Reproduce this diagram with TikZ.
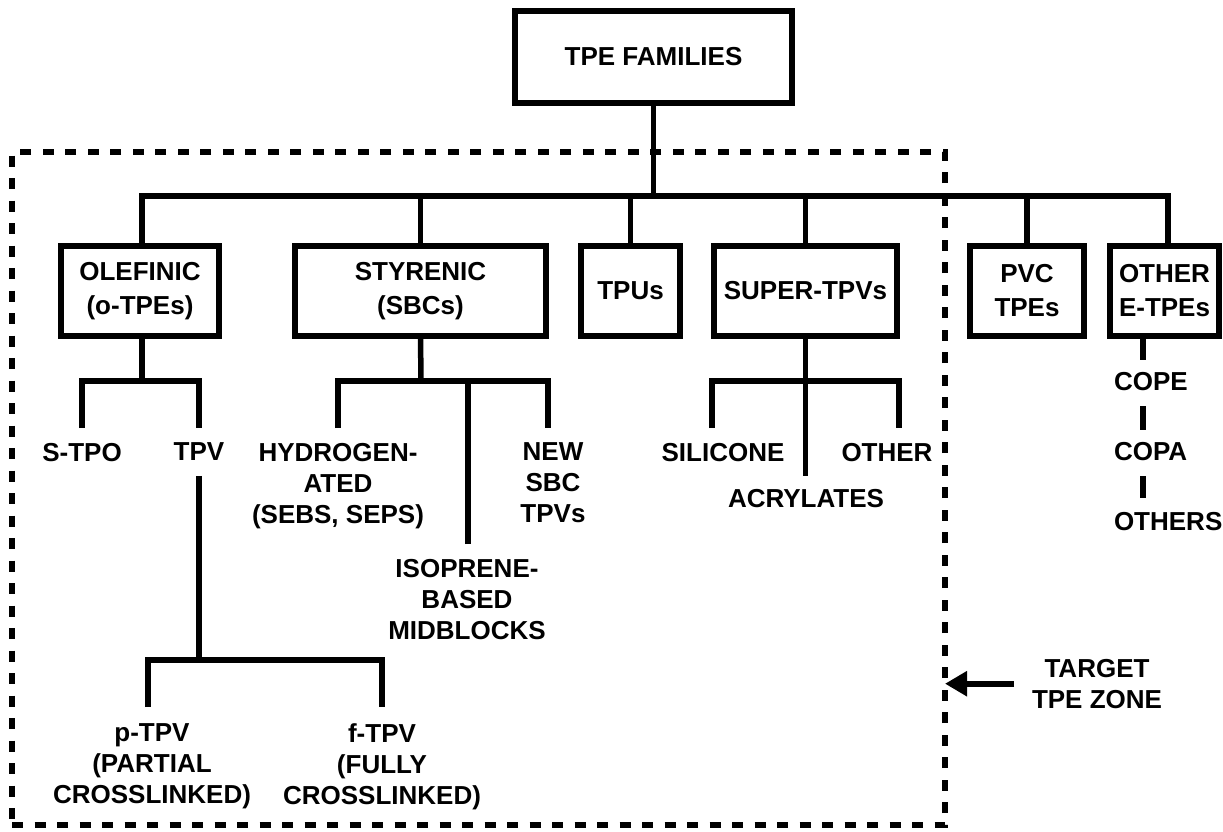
\documentclass[tikz,border=0pt]{standalone}
\usepackage{fontspec}
\setmainfont{Liberation Sans}
\usetikzlibrary{arrows.meta}
\begin{document}
\begin{tikzpicture}[x=1pt,y=-1pt,
  box/.style={draw,line width=5.5pt,inner sep=0pt,outer sep=0pt,align=center,
    minimum height=90pt,font=\fontsize{26}{34}\selectfont\bfseries},
  lbl/.style={inner sep=0pt,outer sep=0pt,align=center,anchor=north,
    font=\fontsize{26}{31}\selectfont\bfseries},
  lblw/.style={lbl,anchor=north west,align=left},
  conn/.style={line width=5.5pt},
  zonebox/.style={draw,line width=5.5pt,dash pattern=on 11pt off 11.5pt,
    inner sep=0pt,outer sep=0pt},
  arr/.style={line width=6pt,-{Triangle[length=22pt,width=24pt]}}]
\useasboundingbox (0,0) rectangle (1223,831);

% frame of the target zone
\node[zonebox,minimum width=933pt,minimum height=673pt] (zone) at (478.5,488.5) {};

% boxes
\node[box,minimum width=277pt,minimum height=92pt] (tpe) at (653.5,57) {TPE FAMILIES};
\node[box,minimum width=158pt] (ole) at (140,291) {OLEFINIC\\(o-TPEs)};
\node[box,minimum width=251pt] (sty) at (420.5,291) {STYRENIC\\(SBCs)};
\node[box,minimum width=99pt] (tpu) at (630.5,291) {TPUs};
\node[box,minimum width=183pt] (sup) at (805.5,291) {SUPER-TPVs};
\node[box,minimum width=114pt] (pvc) at (1027,291) {PVC\\TPEs};
\node[box,minimum width=109pt] (oth) at (1164.5,291) {OTHER\\E-TPEs};

% labels
\node[lbl] (stpo) at (82,443) {S-TPO};
\node[lbl] (tpv) at (199,443) {TPV};
\node[lbl] (hyd) at (338,443) {HYDROGEN-\\ATED\\(SEBS, SEPS)};
\node[lbl] (new) at (553,443) {NEW\\SBC\\TPVs};
\node[lbl] (iso) at (467,559) {ISOPRENE-\\BASED\\MIDBLOCKS};
\node[lbl] (sil) at (723,443) {SILICONE};
\node[lbl] (othr) at (887,443) {OTHER};
\node[lbl] (acr) at (806,489) {ACRYLATES};
\node[lbl] (ptpv) at (152,724) {p-TPV\\(PARTIAL\\CROSSLINKED)};
\node[lbl] (ftpv) at (382,724) {f-TPV\\(FULLY\\CROSSLINKED)};
\node[lblw] (cope) at (1114,372) {COPE};
\node[lblw] (copa) at (1114,442) {COPA};
\node[lblw] (others) at (1114,512) {OTHERS};
\node[lbl] (tz) at (1097,659) {TARGET\\TPE ZONE};

% main bus
\coordinate (bus) at (653,196);
\draw[conn] (tpe.south) -- (tpe.south |- bus);
\draw[conn] ([xshift=2pt]ole.north) |- (bus) -| ([xshift=3.5pt]oth.north);
\foreach \n in {sty,tpu,sup,pvc} \draw[conn] (\n.north) -- (\n.north |- bus);

% olefinic
\coordinate (oj) at (142,381);
\draw[conn] ([xshift=2pt]ole.south) -- (oj);
\draw[conn] ([yshift=15pt]stpo.north) |- (oj) -| ([yshift=15pt]tpv.north);
\coordinate (tj) at (199,660);
\draw[conn] ([yshift=-15pt]tpv.south) -- (tj);
\draw[conn] ([xshift=-4pt,yshift=17pt]ptpv.north) |- (tj) -| ([yshift=17pt]ftpv.north);

% styrenic
\coordinate (sj) at (421,381);
\draw[conn] (sty.south) -- (sj);
\draw[conn] ([yshift=15pt]hyd.north) |- (sj) -| ([xshift=-5pt,yshift=15pt]new.north);
\coordinate (isoT) at ([xshift=1pt,yshift=15pt]iso.north);
\draw[conn] (isoT) -- (isoT |- sj);

% super-TPVs
\coordinate (uj) at (805.5,381);
\draw[conn] ([xshift=-11pt,yshift=15pt]sil.north) |- (uj) -| ([xshift=12pt,yshift=15pt]othr.north);
\coordinate (acrT) at ([yshift=13pt]acr.north);
\draw[conn] (sup.south) -- (sup.south |- acrT);

% other E-TPEs
\draw[conn] ([xshift=-21.5pt]oth.south) -- ([xshift=29pt,yshift=12pt]cope.north west);
\draw[conn] ([xshift=29pt,yshift=-16pt]cope.south west) -- ([xshift=29pt,yshift=12pt]copa.north west);
\draw[conn] ([xshift=29pt,yshift=-16pt]copa.south west) -- ([xshift=29pt,yshift=14pt]others.north west);

% arrow to the zone
\draw[arr] ([xshift=-18pt]tz.west) -- (tz.west -| zone.east);
\end{tikzpicture}
\end{document}
